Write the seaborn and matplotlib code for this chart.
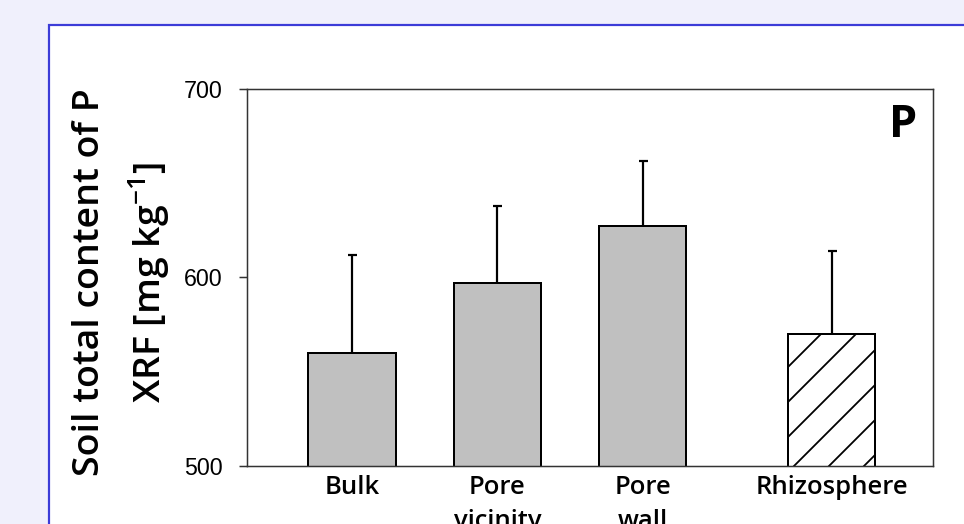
import matplotlib
matplotlib.use("Agg")
import matplotlib.pyplot as plt
from matplotlib.patches import Rectangle
import pandas as pd
import seaborn as sns

# Total soil P measured by XRF at each sampling location (mean and SD)
sites = ["Bulk", "Pore\nvicinity", "Pore\nwall", "Rhizosphere"]
p_mean = [560, 597, 627, 570]
p_sd = [52, 41, 35, 44]
y_ticks = [500, 600, 700]

# Horizontal slot of each bar; the rhizosphere bar stands a little apart
slots = [0.0, 1.0, 2.0, 3.3]

DPI = 210
W, H = 965, 524


def px(n):
    """Convert a size in output pixels to points."""
    return n * 72.0 / DPI


sns.set_theme(style="white")
plt.rcParams["font.family"] = ["Open Sans", "DejaVu Sans"]
plt.rcParams["mathtext.fontset"] = "custom"
plt.rcParams["mathtext.rm"] = "Open Sans:semibold"
plt.rcParams["mathtext.it"] = "Open Sans:semibold"
plt.rcParams["mathtext.bf"] = "Open Sans:bold"
plt.rcParams["hatch.linewidth"] = px(1.8)
for key in ("text.color", "axes.labelcolor", "xtick.color", "ytick.color"):
    plt.rcParams[key] = "black"

fig = plt.figure(figsize=(W / DPI, H / DPI), dpi=DPI, facecolor="#f0f0fc")
# white panel with a blue frame, behind the axes
fig.patches.append(
    Rectangle((49.5 / W, -0.2), 1.2, 1.2 - 24.5 / H, transform=fig.transFigure,
              facecolor="white", edgecolor="#3c3cd8", linewidth=px(2.2), zorder=-5)
)

ax_l, ax_r, ax_t, ax_b = 246.7, 933.0, 89.0, 465.7
ax = fig.add_axes([ax_l / W, 1 - ax_b / H, (ax_r - ax_l) / W, (ax_b - ax_t) / H])

df = pd.DataFrame({"slot": slots, "P": p_mean, "site": sites})
fills = {"Bulk": "#c0c0c0", "Pore\nvicinity": "#c0c0c0",
         "Pore\nwall": "#c0c0c0", "Rhizosphere": "white"}
sns.barplot(data=df, x="slot", y="P", hue="site", palette=fills,
            native_scale=True, orient="x", dodge=False, width=0.6,
            edgecolor="black", linewidth=px(2), errorbar=None,
            legend=False, ax=ax)

for bar in ax.patches:
    centre = bar.get_x() + bar.get_width() / 2
    if abs(centre - slots[3]) < 1e-6:
        bar.set_hatch("//")

# upper error bars (lower half hidden behind the bars)
ax.errorbar(slots, p_mean, yerr=p_sd, fmt="none", ecolor="black",
            elinewidth=px(2.2), capsize=px(4.5), capthick=px(2.2), zorder=0.5)

ax.set_xlim(-0.724, 3.996)
ax.set_ylim(500, 700)

ax.set_yticks(y_ticks, labels=[str(v) for v in y_ticks],
              fontfamily="Liberation Sans", fontsize=px(23.3))
ax.set_xticks(slots, labels=sites, fontsize=px(25.6), linespacing=1.5,
              fontweight="semibold")
ax.tick_params(axis="y", left=True, direction="out", length=px(8),
               width=px(1.5), pad=px(16), color="#333333")
ax.tick_params(axis="x", bottom=False, length=0, pad=px(9))
ax.set_xlabel("")

for s in ax.spines.values():
    s.set_visible(True)
    s.set_color("#333333")
    s.set_linewidth(px(1.5))

ax.set_ylabel("Soil total content of P\nXRF [mg kg$^{-1}$]", fontsize=px(37.5),
              linespacing=1.55, fontweight="semibold")
ax.yaxis.set_label_coords(-0.1095, 0.487)

ax.text(0.9767, 0.962, "P", transform=ax.transAxes, ha="right", va="top",
        fontsize=px(45), fontweight="bold")

fig.savefig("out.png", dpi=DPI, facecolor=fig.get_facecolor())
